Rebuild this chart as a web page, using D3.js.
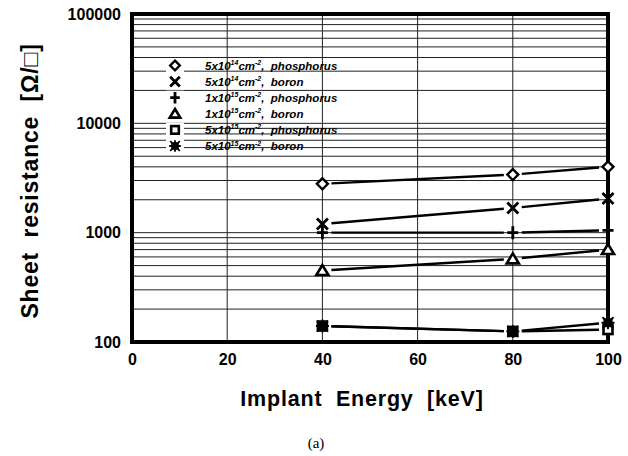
<!DOCTYPE html>
<html><head><meta charset="utf-8">
<script src="https://cdn.jsdelivr.net/npm/d3@7"></script>
<style>body{margin:0;background:#fff} text{white-space:pre}</style>
</head><body><svg id="c" width="628" height="456"></svg>
<script>
const energies = [40, 80, 100];
const xTicks = [0, 20, 40, 60, 80, 100];
const yTicks = [100, 1000, 10000, 100000];
const seriesNames = ["phos5e14","boron5e14","phos1e15","boron1e15","phos5e15","boron5e15"];
const phos5e14 = [2800, 3400, 4000];
const boron5e14 = [1200, 1680, 2050];
const phos1e15 = [1000, 1000, 1050];
const boron1e15 = [450, 575, 700];
const phos5e15 = [140, 125, 130];
const boron5e15 = [140, 125, 150];
const legendDose = ["5x10", "5x10", "1x10", "1x10", "5x10", "5x10"];
const legendExp = ["14", "14", "15", "15", "15", "15"];
const legendSpecies = ["phosphorus", "boron", "phosphorus", "boron", "phosphorus", "boron"];
const symbols = ["diamond", "cross", "plus", "triangle", "square", "star"];

const svg = d3.select("#c");
const L = 132, R = 608, T = 14, B = 342;
const FONT = "Liberation Sans, Arial, sans-serif";
const x = d3.scaleLinear().domain([0, 100]).range([L, R]);
const y = d3.scaleLog().domain([100, 100000]).range([B, T]);

// grid
const minor = [];
for (let d = 100; d < 100000; d *= 10) for (let k = 2; k <= 9; k++) minor.push(d * k);
svg.append("g").selectAll("line").data(minor.concat([1000, 10000])).join("line")
  .attr("x1", L).attr("x2", R).attr("y1", d => y(d)).attr("y2", d => y(d))
  .attr("stroke", "#222").attr("stroke-width", 1);
svg.append("g").selectAll("line").data([20, 40, 60, 80]).join("line")
  .attr("y1", T).attr("y2", B).attr("x1", d => x(d)).attr("x2", d => x(d))
  .attr("stroke", "#222").attr("stroke-width", 1);

// frame
svg.append("rect").attr("x", L).attr("y", T).attr("width", R - L).attr("height", B - T)
  .attr("fill", "none").attr("stroke", "#000").attr("stroke-width", 4);

// axes labels
const xAxis = d3.axisBottom(x).tickValues(xTicks).tickSize(0).tickPadding(12);
const gx = svg.append("g").attr("transform", `translate(0,${B})`).call(xAxis);
gx.select(".domain").remove();
gx.selectAll("text").attr("font-family", FONT)
  .attr("font-weight", "bold").attr("font-size", 16).attr("fill", "#000");
const yAxis = d3.axisLeft(y).tickValues(yTicks).tickFormat(d3.format("d")).tickSize(0).tickPadding(11);
const gy = svg.append("g").attr("transform", `translate(${L},0)`).call(yAxis);
gy.select(".domain").remove();
gy.selectAll("text").attr("font-family", FONT)
  .attr("font-weight", "bold").attr("font-size", 16).attr("fill", "#000");

svg.append("text").attr("x", 362).attr("y", 406).attr("text-anchor", "middle")
  .attr("font-family", FONT).attr("font-weight", "bold")
  .attr("font-size", 21.5).attr("letter-spacing", 0.8).text("Implant  Energy  [keV]");
svg.append("text").attr("transform", "translate(38,181) rotate(-90)").attr("text-anchor", "middle")
  .attr("font-family", FONT).attr("font-weight", "bold")
  .attr("font-size", 23).attr("letter-spacing", 0.8).text("Sheet  resistance  [Ω/□]");
svg.append("text").attr("x", 316).attr("y", 448).attr("text-anchor", "middle")
  .attr("font-family", "Liberation Serif, Times New Roman, serif").attr("font-size", 15).text("(a)");

// markers
function drawSymbol(g, type, cx, cy, s) {
  if (type === "diamond") g.append("path").attr("d", `M${cx},${cy-s}L${cx+s},${cy}L${cx},${cy+s}L${cx-s},${cy}Z`).attr("fill", "#fff").attr("stroke", "#000").attr("stroke-width", 2.4);
  else if (type === "cross") g.append("path").attr("d", `M${cx-s},${cy-s}L${cx+s},${cy+s}M${cx-s},${cy+s}L${cx+s},${cy-s}`).attr("stroke", "#000").attr("stroke-width", 2.8);
  else if (type === "plus") g.append("path").attr("d", `M${cx-s},${cy}L${cx+s},${cy}M${cx},${cy-s-1}L${cx},${cy+s+1}`).attr("stroke", "#000").attr("stroke-width", 2.8);
  else if (type === "triangle") g.append("path").attr("d", `M${cx},${cy-s}L${cx+s*1.1},${cy+s*0.8}L${cx-s*1.1},${cy+s*0.8}Z`).attr("fill", "#fff").attr("stroke", "#000").attr("stroke-width", 2.6);
  else if (type === "square") g.append("rect").attr("x", cx-s+1).attr("y", cy-s+1).attr("width", 2*s-2).attr("height", 2*s-2).attr("fill", "#fff").attr("stroke", "#000").attr("stroke-width", 2.6);
  else if (type === "star") { g.append("rect").attr("x", cx-s+1).attr("y", cy-s+1).attr("width", 2*s-2).attr("height", 2*s-2).attr("fill", "#000");
    g.append("path").attr("d", `M${cx-s},${cy-s}L${cx+s},${cy+s}M${cx-s},${cy+s}L${cx+s},${cy-s}M${cx-s-1},${cy}L${cx+s+1},${cy}M${cx},${cy-s-1}L${cx},${cy+s+1}`).attr("stroke", "#000").attr("stroke-width", 1.8); }
}

const allSeries = [phos5e14, boron5e14, phos1e15, boron1e15, phos5e15, boron5e15];
const gData = svg.append("g");
allSeries.forEach((vals, si) => {
  for (let i = 0; i < vals.length - 1; i++) {
    const x1 = x(energies[i]), y1 = y(vals[i]), x2 = x(energies[i+1]), y2 = y(vals[i+1]);
    const dx = x2 - x1, dy = y2 - y1, len = Math.hypot(dx, dy), g = 9;
    gData.append("line").attr("x1", x1 + dx/len*g).attr("y1", y1 + dy/len*g)
      .attr("x2", x2 - dx/len*g).attr("y2", y2 - dy/len*g)
      .attr("stroke", "#000").attr("stroke-width", 2.4);
  }
});
allSeries.forEach((vals, si) => {
  vals.forEach((v, i) => drawSymbol(gData, symbols[si], x(energies[i]), y(v), 5.5));
});

// legend
const lg = svg.append("g");
seriesNames.forEach((n, i) => {
  const ly = 65.5 + i * 16.1;
  lg.append("rect").attr("x", 166).attr("y", ly - 7).attr("width", 18).attr("height", 14).attr("fill", "#fff");
  drawSymbol(lg, symbols[i], 175, ly, 4.8);
  const t = lg.append("text").attr("x", 205).attr("y", ly + 4)
    .attr("font-family", FONT).attr("font-weight", "bold")
    .attr("font-style", "italic").attr("font-size", 11.5).attr("fill", "#000");
  t.append("tspan").text(legendDose[i]);
  t.append("tspan").attr("dy", -4.5).attr("font-size", 7).text(legendExp[i]);
  t.append("tspan").attr("dy", 4.5).text("cm");
  t.append("tspan").attr("dy", -4.5).attr("font-size", 7).text("-2");
  t.append("tspan").attr("dy", 4.5).text(",  " + legendSpecies[i]);
});
</script></body></html>
